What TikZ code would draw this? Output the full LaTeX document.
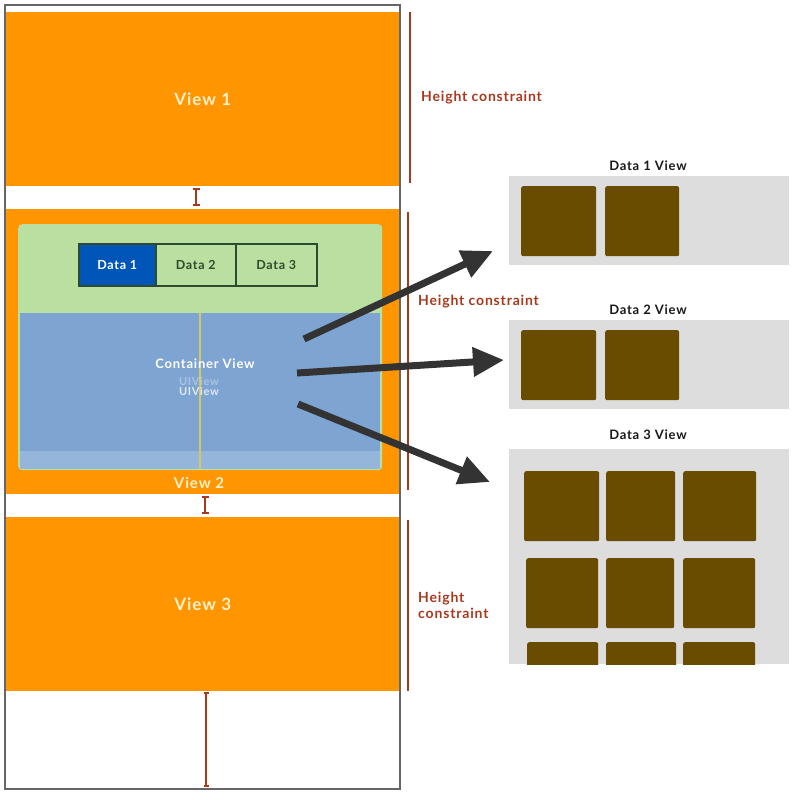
\documentclass[tikz,border=0pt]{standalone}
\usepackage{fontspec}
\setmainfont{Lato}[LetterSpace=6]
\usetikzlibrary{arrows.meta}
\definecolor{orng}{HTML}{FF9500}
\definecolor{grn}{HTML}{B9E0A0}
\definecolor{blu}{HTML}{7EA4D2}
\definecolor{blulight}{HTML}{95B5DA}
\definecolor{tabblue}{HTML}{0055B8}
\definecolor{tabline}{HTML}{2F4A2F}
\definecolor{cream}{HTML}{FFF1CC}
\definecolor{rust}{HTML}{A8391D}
\definecolor{lgray}{HTML}{DDDDDD}
\definecolor{brown}{HTML}{6A4C00}
\definecolor{arrowc}{HTML}{333333}
\definecolor{frame}{HTML}{666666}
\tikzset{
  viewbox/.style={fill=orng, draw=none, anchor=north west, inner sep=0pt, font=\bfseries\fontsize{17}{20}\selectfont, text=cream},
  hc/.style={draw=rust, line width=2pt},
  hclabel/.style={anchor=west, text=rust, font=\bfseries\fontsize{14}{16}\selectfont, align=left, inner sep=0pt},
  ibeam/.style={draw=rust, line width=2pt, {Bar[width=7pt,line width=2pt]}-{Bar[width=7pt,line width=2pt]}},
  panel/.style={fill=lgray, draw=none, anchor=north west, inner sep=0pt},
  tile/.style={fill=brown, draw=none, rounded corners=2pt, anchor=north west, inner sep=0pt},
  dlabel/.style={font=\bfseries\fontsize{13}{15}\selectfont, text=black!90, inner sep=0pt},
  tabbox/.style={draw=tabline, line width=1.5pt, anchor=north west, inner sep=0pt, minimum height=42pt, font=\bfseries\fontsize{12.5}{15}\selectfont},
  bigarrow/.style={draw=arrowc, line width=7pt, -{Triangle[length=31pt,width=28pt]}}
}
\begin{document}
\begin{tikzpicture}[x=1pt,y=-1pt]
\useasboundingbox (0,0) rectangle (800,800);
\fill[white] (0,0) rectangle (800,800);
% left column views
\node[viewbox, minimum width=395pt, minimum height=174pt] (v1) at (5,12) {View 1};
\node[viewbox, minimum width=395pt, minimum height=285pt] (v2) at (5,209) {};
\node[viewbox, minimum width=395pt, minimum height=174pt] (v3) at (5,517) {View 3};
% inside view 2
\node[fill=grn, rounded corners=4pt, anchor=north west, inner sep=0pt, minimum width=364pt, minimum height=246pt] (gbox) at (18,224) {};
\node[fill=blu, anchor=north west, inner sep=0pt, minimum width=360pt, minimum height=138pt] (cont) at (20,313) {};
\node[fill=blulight, anchor=north west, inner sep=0pt, minimum width=360pt, minimum height=18pt] (contb) at (20,451) {};
\draw[draw={rgb,255:red,214;green,200;blue,96}, line width=2pt] (200,313) -- (200,469);
\node[font=\bfseries\fontsize{13}{15}\selectfont, text=white, inner sep=0pt] (cv) at (205,364) {Container View};
\node[font=\bfseries\fontsize{11}{12}\selectfont, text=white, opacity=0.35, inner sep=0pt] (ui1) at (199,381) {UIView};
\node[font=\bfseries\fontsize{11}{12}\selectfont, text=white, opacity=0.75, inner sep=0pt] (ui2) at (199,391) {UIView};
\node[font=\bfseries\fontsize{15}{18}\selectfont, text=cream, inner sep=0pt] (v2t) at (199,483) {View 2};
% tabs
\node[tabbox, fill=tabblue, text=white, minimum width=77pt] (t1) at (78,243) {Data 1};
\node[tabbox, fill=grn, text=tabline, minimum width=80pt] (t2) at (155,243) {Data 2};
\node[tabbox, fill=grn, text=tabline, minimum width=81pt] (t3) at (235,243) {Data 3};
% spacing I-beams
\coordinate (s1a) at (196,188); \coordinate (s1b) at (196,206);
\coordinate (s2a) at (205,496); \coordinate (s2b) at (205,514);
\coordinate (s3a) at (206,692); \coordinate (s3b) at (206,787);
\draw[ibeam] (s1a) -- (s1b);
\draw[ibeam] (s2a) -- (s2b);
\draw[ibeam, {Bar[width=5pt,line width=2pt]}-{Bar[width=5pt,line width=2pt]}] (s3a) -- (s3b);
% outer frame
\draw[draw=frame, line width=2pt] (5,5) rectangle (400,789);
% height constraints
\coordinate (h1a) at (410,12); \coordinate (h1b) at (410,183);
\coordinate (h2a) at (408,212); \coordinate (h2b) at (408,490);
\coordinate (h3a) at (408,520); \coordinate (h3b) at (408,691);
\draw[hc] (h1a) -- (h1b);
\draw[hc] (h2a) -- (h2b);
\draw[hc] (h3a) -- (h3b);
\node[hclabel] (hl1) at (421,98) {Height constraint};
\node[hclabel] (hl2) at (418,302) {Height constraint};
\node[hclabel] (hl3) at (418,605) {Height\\constraint};
% data panels
\node[dlabel] (d1l) at (648,166) {Data 1 View};
\node[panel, minimum width=280pt, minimum height=89pt] (p1) at (509,176) {};
\node[tile, minimum width=75pt, minimum height=70pt] (p1a) at (521,186) {};
\node[tile, minimum width=74pt, minimum height=70pt] (p1b) at (605,186) {};

\node[dlabel] (d2l) at (648,310) {Data 2 View};
\node[panel, minimum width=280pt, minimum height=89pt] (p2) at (509,320) {};
\node[tile, minimum width=75pt, minimum height=70pt] (p2a) at (521,330) {};
\node[tile, minimum width=74pt, minimum height=70pt] (p2b) at (605,330) {};

\node[dlabel] (d3l) at (648,435) {Data 3 View};
\node[panel, minimum width=280pt, minimum height=215pt] (p3) at (509,449) {};
\node[tile, minimum width=75pt, minimum height=70pt] (q1) at (524,471) {};
\node[tile, minimum width=69pt, minimum height=70pt] (q2) at (606,471) {};
\node[tile, minimum width=73pt, minimum height=70pt] (q3) at (683,471) {};
\node[tile, minimum width=72pt, minimum height=70pt] (q4) at (526,558) {};
\node[tile, minimum width=68pt, minimum height=70pt] (q5) at (606,558) {};
\node[tile, minimum width=72pt, minimum height=70pt] (q6) at (683,558) {};
\begin{scope}
\clip (509,449) rectangle (789,664);
\node[tile, minimum width=71pt, minimum height=40pt] (q7) at (527,642) {};
\node[tile, minimum width=70pt, minimum height=40pt] (q8) at (606,642) {};
\node[tile, minimum width=72pt, minimum height=40pt] (q9) at (683,642) {};
\end{scope}
% arrows
\coordinate (a1s) at (304,339); \coordinate (a1e) at (493,251);
\coordinate (a2s) at (297,373); \coordinate (a2e) at (504,360);
\coordinate (a3s) at (298,404); \coordinate (a3e) at (490,482);
\draw[bigarrow] (a1s) -- (a1e);
\draw[bigarrow] (a2s) -- (a2e);
\draw[bigarrow] (a3s) -- (a3e);
\end{tikzpicture}
\end{document}
